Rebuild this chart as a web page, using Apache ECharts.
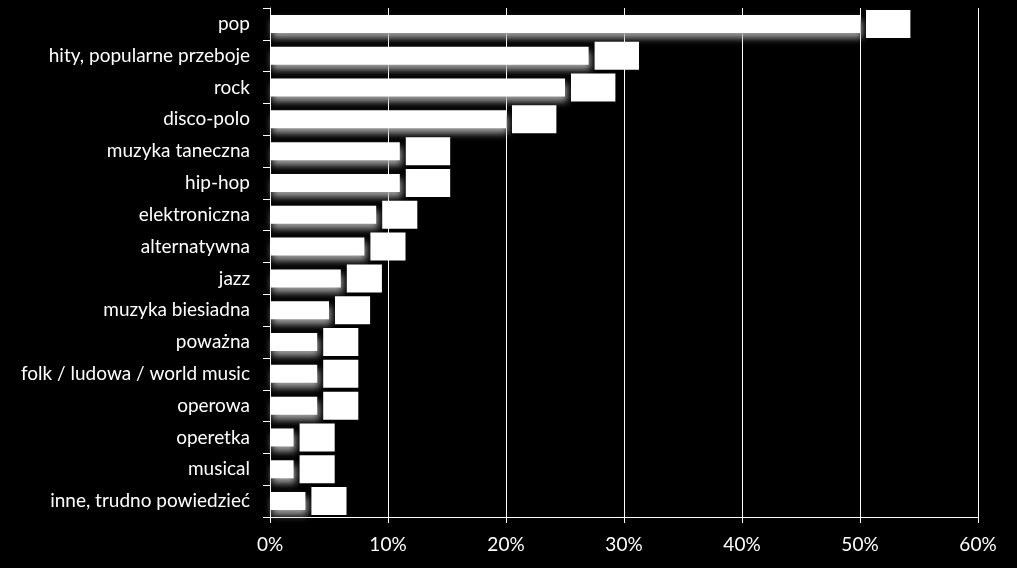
<!DOCTYPE html>
<html><head><meta charset="utf-8">
<script src="https://cdn.jsdelivr.net/npm/echarts@6/dist/echarts.min.js"></script>
<style>html,body{margin:0;padding:0;background:#000;}#c{width:1017px;height:568px;}</style>
</head><body><div id="c"></div>
<script>
const categories = ["pop","hity, popularne przeboje","rock","disco-polo","muzyka taneczna","hip-hop","elektroniczna","alternatywna","jazz","muzyka biesiadna","poważna","folk / ludowa / world music","operowa","operetka","musical","inne, trudno powiedzieć"];
const values = [50,27,25,20,11,11,9,8,6,5,4,4,4,2,2,3];
const xTicks = [0,10,20,30,40,50,60];

const chart = echarts.init(document.getElementById('c'), null, {renderer:'canvas'});
chart.setOption({
  backgroundColor:'#000',
  animation:false,
  grid:{left:270,right:39,top:8,bottom:51,containLabel:false},
  xAxis:{type:'value',min:0,max:60,interval:10,
    axisLine:{show:true,lineStyle:{color:'#fff',width:1}},
    axisTick:{show:true,length:6,lineStyle:{color:'#fff'}},
    splitLine:{show:true,lineStyle:{color:'#fff',width:1}},
    axisLabel:{color:'#fff',fontFamily:'Lato',fontSize:19,margin:18,formatter:v=>v+'%'}},
  yAxis:{type:'category',data:categories,inverse:true,
    axisLine:{show:true,lineStyle:{color:'#fff',width:1}},
    axisTick:{show:true,length:7,lineStyle:{color:'#fff'}},
    axisLabel:{color:'#fff',fontFamily:'Lato',fontSize:19,margin:20}},
  series:[{type:'bar',data:values,barWidth:18,
    itemStyle:{color:'#fff',shadowColor:'rgba(170,170,170,0.95)',shadowBlur:7,shadowOffsetY:5,shadowOffsetX:2},
    label:{show:true,position:'right',distance:6,formatter:'{c}%',color:'#fff',fontFamily:'Lato',
      backgroundColor:'#fff',padding:[5,6,5,7],verticalAlign:'middle',fontSize:16,lineHeight:18}}]
});
</script></body></html>
